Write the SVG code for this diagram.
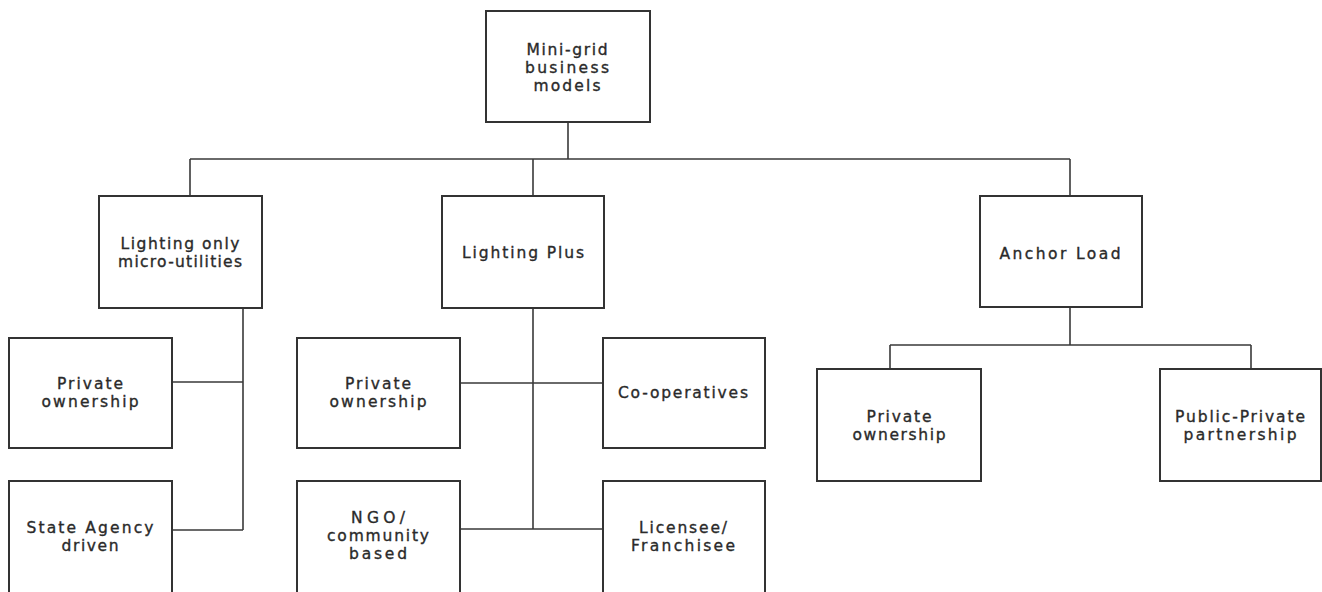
<svg xmlns="http://www.w3.org/2000/svg" width="1322" height="592" viewBox="0 0 1322 592">
<style>
.box{fill:#fff;stroke:#333;stroke-width:2}
.lbl{font-family:"DejaVu Sans",Verdana,sans-serif;font-size:15.5px;fill:#2a2a2a;stroke:#2a2a2a;stroke-width:0.35;text-anchor:middle}
.con{stroke:#3a3a3a;stroke-width:1.6;fill:none}
</style>
<rect width="1322" height="592" fill="#fff"/>
<g id="connectors">
<path class="con" d="M568 122V159M190 159H1070M190 159V196M533 159V196M1070 159V196"/>
<path class="con" d="M243 308V530M172 382H243M172 530H243"/>
<path class="con" d="M533 308V529M460 383H603M460 529H603"/>
<path class="con" d="M1070 307V345M890 345H1251M890 345V369M1251 345V369"/>
</g>
<g id="root">
<rect class="box" x="486" y="11" width="164" height="111"/>
<text class="lbl"><tspan x="567" y="55" textLength="81" lengthAdjust="spacing">Mini-grid</tspan><tspan x="567" y="73" textLength="84" lengthAdjust="spacing">business</tspan><tspan x="567" y="91" textLength="67" lengthAdjust="spacing">models</tspan></text>
</g>
<g id="lighting-only">
<rect class="box" x="99" y="196" width="163" height="112"/>
<text class="lbl"><tspan x="180" y="249" textLength="119" lengthAdjust="spacing">Lighting only</tspan><tspan x="180" y="267" textLength="124" lengthAdjust="spacing">micro-utilities</tspan></text>
</g>
<g id="lighting-plus">
<rect class="box" x="442" y="196" width="162" height="112"/>
<text class="lbl"><tspan x="523" y="258" textLength="122" lengthAdjust="spacing">Lighting Plus</tspan></text>
</g>
<g id="anchor-load">
<rect class="box" x="980" y="196" width="162" height="111"/>
<text class="lbl"><tspan x="1060" y="259" textLength="121" lengthAdjust="spacing">Anchor Load</tspan></text>
</g>
<g id="lo-private">
<rect class="box" x="9" y="338" width="163" height="110"/>
<text class="lbl"><tspan x="90" y="389" textLength="66" lengthAdjust="spacing">Private</tspan><tspan x="90" y="407" textLength="97" lengthAdjust="spacing">ownership</tspan></text>
</g>
<g id="lo-state">
<rect class="box" x="9" y="481" width="163" height="120"/>
<text class="lbl"><tspan x="90" y="533" textLength="127" lengthAdjust="spacing">State Agency</tspan><tspan x="90" y="551" textLength="57" lengthAdjust="spacing">driven</tspan></text>
</g>
<g id="lp-private">
<rect class="box" x="297" y="338" width="163" height="110"/>
<text class="lbl"><tspan x="378" y="389" textLength="66" lengthAdjust="spacing">Private</tspan><tspan x="378" y="407" textLength="97" lengthAdjust="spacing">ownership</tspan></text>
</g>
<g id="lp-coop">
<rect class="box" x="603" y="338" width="162" height="110"/>
<text class="lbl"><tspan x="683" y="398" textLength="130" lengthAdjust="spacing">Co-operatives</tspan></text>
</g>
<g id="lp-ngo">
<rect class="box" x="297" y="481" width="163" height="120"/>
<text class="lbl"><tspan x="378" y="523" textLength="54" lengthAdjust="spacing">NGO/</tspan><tspan x="378" y="541" textLength="102" lengthAdjust="spacing">community</tspan><tspan x="378" y="559" textLength="58" lengthAdjust="spacing">based</tspan></text>
</g>
<g id="lp-licensee">
<rect class="box" x="603" y="481" width="162" height="120"/>
<text class="lbl"><tspan x="683" y="533" textLength="88" lengthAdjust="spacing">Licensee/</tspan><tspan x="683" y="551" textLength="104" lengthAdjust="spacing">Franchisee</tspan></text>
</g>
<g id="al-private">
<rect class="box" x="817" y="369" width="164" height="112"/>
<text class="lbl"><tspan x="899" y="422" textLength="65" lengthAdjust="spacing">Private</tspan><tspan x="899" y="440" textLength="93" lengthAdjust="spacing">ownership</tspan></text>
</g>
<g id="al-ppp">
<rect class="box" x="1160" y="369" width="161" height="112"/>
<text class="lbl"><tspan x="1240" y="422" textLength="130" lengthAdjust="spacing">Public-Private</tspan><tspan x="1240" y="440" textLength="113" lengthAdjust="spacing">partnership</tspan></text>
</g>
</svg>
